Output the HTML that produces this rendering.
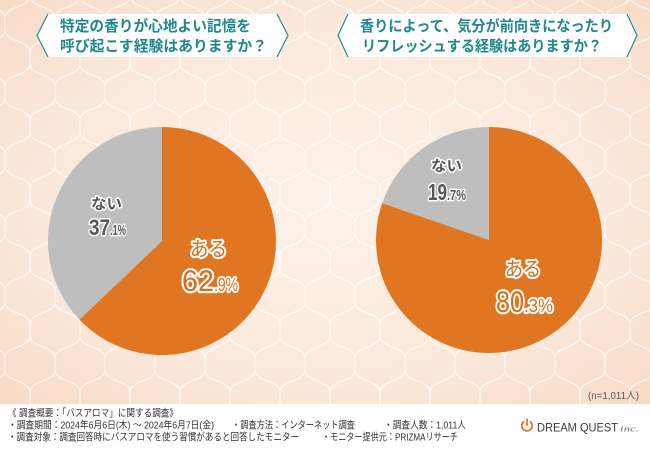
<!DOCTYPE html>
<html>
<head>
<meta charset="utf-8">
<style>
  html, body { margin: 0; padding: 0; background: #ffffff; }
  body { width: 650px; height: 450px; overflow: hidden; }
  svg { display: block; }
  .jp { font-family: "Liberation Sans", "Noto Sans CJK JP", sans-serif; }
</style>
</head>
<body>
<svg width="650" height="450" viewBox="0 0 650 450" xmlns="http://www.w3.org/2000/svg">
  <defs>
    <radialGradient id="bg" cx="50%" cy="50%" r="75%">
      <stop offset="0" stop-color="#FDF2EA"/>
      <stop offset="0.6" stop-color="#FBE8DA"/>
      <stop offset="1" stop-color="#F6D8C3"/>
    </radialGradient>
    <pattern id="trellis" patternUnits="userSpaceOnUse" width="50" height="68" x="5" y="-10">
      <g fill="none" stroke="#ffffff" stroke-width="1.3" stroke-opacity="0.5">
        <path d="M0,-28 C0,-16 25,-18 25,-6 L25,6 C25,18 0,16 0,28 C0,16 -25,18 -25,6 L-25,-6 C-25,-18 0,-16 0,-28 Z" transform="translate(0,0)"/>
        <path d="M0,-28 C0,-16 25,-18 25,-6 L25,6 C25,18 0,16 0,28 C0,16 -25,18 -25,6 L-25,-6 C-25,-18 0,-16 0,-28 Z" transform="translate(50,0)"/>
        <path d="M0,-28 C0,-16 25,-18 25,-6 L25,6 C25,18 0,16 0,28 C0,16 -25,18 -25,6 L-25,-6 C-25,-18 0,-16 0,-28 Z" transform="translate(0,68)"/>
        <path d="M0,-28 C0,-16 25,-18 25,-6 L25,6 C25,18 0,16 0,28 C0,16 -25,18 -25,6 L-25,-6 C-25,-18 0,-16 0,-28 Z" transform="translate(50,68)"/>
        <path d="M0,-28 C0,-16 25,-18 25,-6 L25,6 C25,18 0,16 0,28 C0,16 -25,18 -25,6 L-25,-6 C-25,-18 0,-16 0,-28 Z" transform="translate(25,34)"/>
      </g>
    </pattern>
  </defs>

  <!-- background -->
  <rect x="0" y="0" width="650" height="450" fill="#ffffff"/>
  <rect x="0" y="0" width="650" height="404" fill="url(#bg)"/>
  <rect x="0" y="0" width="650" height="404" fill="url(#trellis)"/>

  <!-- title boxes -->
  <polygon points="48,14 277,14 288,35.5 277,57 48,57 37,35.5" fill="#ffffff"/>
  <polyline points="48,14 37,35.5 48,57" fill="none" stroke="#2A8A8E" stroke-width="1.2"/>
  <polyline points="277,14 288,35.5 277,57" fill="none" stroke="#2A8A8E" stroke-width="1.2"/>

  <polygon points="348,14 627,14 637,35.5 627,57 348,57 338,35.5" fill="#ffffff"/>
  <polyline points="348,14 338,35.5 348,57" fill="none" stroke="#2A8A8E" stroke-width="1.2"/>
  <polyline points="627,14 637,35.5 627,57" fill="none" stroke="#2A8A8E" stroke-width="1.2"/>

  <g class="jp" font-size="15" font-weight="bold" fill="#22878B">
    <text x="60" y="31" textLength="191" lengthAdjust="spacingAndGlyphs">特定の香りが心地よい記憶を</text>
    <text x="60" y="51" textLength="207" lengthAdjust="spacingAndGlyphs">呼び起こす経験はありますか？</text>
    <text x="360" y="31" textLength="253" lengthAdjust="spacingAndGlyphs">香りによって、気分が前向きになったり</text>
    <text x="362" y="51" textLength="240" lengthAdjust="spacingAndGlyphs">リフレッシュする経験はありますか？</text>
  </g>

  <!-- left pie -->
  <path d="M162,241 L162,127 A114,114 0 1,1 79.4,319.6 Z" fill="#E07621"/>
  <path d="M162,241 L79.4,319.6 A114,114 0 0,1 162,127 Z" fill="#BEBEBE"/>

  <!-- right pie -->
  <path d="M489,240 L489,127 A113,113 0 1,1 382.2,203.1 Z" fill="#E07621"/>
  <path d="M489,240 L382.2,203.1 A113,113 0 0,1 489,127 Z" fill="#BEBEBE"/>

  <!-- gray labels -->
  <g class="jp" font-weight="bold" fill="#575757" stroke="#ffffff" stroke-width="3" stroke-linejoin="round" paint-order="stroke">
    <text x="91" y="209" font-size="15" textLength="31" lengthAdjust="spacingAndGlyphs">ない</text>
    <text x="89" y="235" font-size="22" textLength="21" lengthAdjust="spacingAndGlyphs">37</text>
    <text x="110" y="235" font-size="15" textLength="16" lengthAdjust="spacingAndGlyphs">.1%</text>

    <text x="431" y="171" font-size="15" textLength="31" lengthAdjust="spacingAndGlyphs">ない</text>
    <text x="428" y="200" font-size="23" textLength="19" lengthAdjust="spacingAndGlyphs">19</text>
    <text x="447" y="200" font-size="15" textLength="19" lengthAdjust="spacingAndGlyphs">.7%</text>
  </g>

  <!-- orange labels -->
  <g class="jp" fill="#D86C1B" stroke="#ffffff" stroke-width="4.2" stroke-linejoin="round" paint-order="stroke">
    <text x="190" y="256" font-size="20" textLength="37" lengthAdjust="spacingAndGlyphs">ある</text>
    <text x="182" y="291" font-size="30" textLength="32" lengthAdjust="spacingAndGlyphs">62</text>
    <text x="214" y="291" font-size="18" textLength="24" lengthAdjust="spacingAndGlyphs">.9%</text>

    <text x="505" y="276" font-size="20" textLength="36" lengthAdjust="spacingAndGlyphs">ある</text>
    <text x="496" y="312" font-size="30" textLength="28" lengthAdjust="spacingAndGlyphs">80</text>
    <text x="524" y="312" font-size="18" textLength="29" lengthAdjust="spacingAndGlyphs">.3%</text>
  </g>

  <!-- n= -->
  <text class="jp" x="588" y="399" font-size="10" fill="#555555" textLength="51" lengthAdjust="spacingAndGlyphs">(n=1,011人)</text>

  <!-- footer -->
  <g class="jp" font-size="10" fill="#333333">
    <text x="8" y="416.5" textLength="170" lengthAdjust="spacingAndGlyphs">《 調査概要：「バスアロマ」に関する調査》</text>
    <text x="8" y="428.5" textLength="206" lengthAdjust="spacingAndGlyphs">・調査期間：2024年6月6日(木) ～ 2024年6月7日(金)</text>
    <text x="232" y="428.5" textLength="123" lengthAdjust="spacingAndGlyphs">・調査方法：インターネット調査</text>
    <text x="384" y="428.5" textLength="82" lengthAdjust="spacingAndGlyphs">・調査人数：1,011人</text>
    <text x="8" y="440.5" textLength="291" lengthAdjust="spacingAndGlyphs">・調査対象：調査回答時にバスアロマを使う習慣があると回答したモニター</text>
    <text x="322" y="440.5" textLength="136" lengthAdjust="spacingAndGlyphs">・モニター提供元：PRIZMAリサーチ</text>
  </g>

  <!-- logo -->
  <g fill="none" stroke="#E8782A" stroke-width="1.8" stroke-linecap="round">
    <path d="M523.5,421.8 A5.2,5.2 0 1,0 530.5,421.8"/>
    <line x1="527" y1="419" x2="527" y2="425"/>
  </g>
  <text x="537" y="431.5" font-family="Liberation Sans, sans-serif" font-size="12" fill="#3a3a3a" textLength="81" lengthAdjust="spacingAndGlyphs">DREAM QUEST</text>
  <text x="620" y="431.5" font-family="Liberation Serif, serif" font-style="italic" font-size="8" fill="#777777" textLength="19" lengthAdjust="spacingAndGlyphs">inc.</text>
</svg>
</body>
</html>
